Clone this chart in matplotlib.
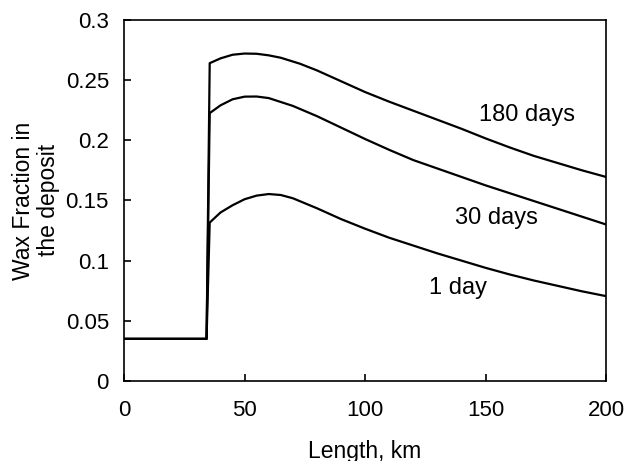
import matplotlib
matplotlib.use("Agg")
import matplotlib.pyplot as plt

plt.rcParams['font.family'] = ['Liberation Sans', 'DejaVu Sans']

# Length (km) and wax fraction for each curve
x_1d = [0, 34.2, 35.5, 40, 45, 50, 55, 60, 65, 70, 80, 90, 100, 110, 120, 130, 140, 150, 160, 170, 180, 190, 200]
y_1d = [0.035, 0.035, 0.1316, 0.140, 0.146, 0.151, 0.154, 0.1553, 0.1545, 0.1518, 0.1435, 0.1345, 0.1265, 0.119, 0.1125, 0.106, 0.100, 0.094, 0.0885, 0.0835, 0.079, 0.0745, 0.0705]

x_30d = [0, 34.2, 35.5, 40, 45, 50, 55, 60, 70, 80, 90, 100, 110, 120, 130, 140, 150, 160, 170, 180, 190, 200]
y_30d = [0.035, 0.035, 0.2225, 0.229, 0.234, 0.2362, 0.2363, 0.235, 0.2285, 0.220, 0.2105, 0.201, 0.192, 0.1835, 0.1765, 0.1695, 0.1625, 0.156, 0.1495, 0.143, 0.1365, 0.130]

x_180d = [0, 34.2, 35.5, 40, 45, 50, 55, 60, 65, 73, 80, 90, 100, 110, 120, 130, 140, 150, 160, 170, 180, 190, 200]
y_180d = [0.035, 0.035, 0.264, 0.268, 0.2710, 0.2720, 0.2718, 0.2705, 0.2685, 0.2635, 0.258, 0.249, 0.240, 0.232, 0.2245, 0.217, 0.2095, 0.2015, 0.194, 0.187, 0.181, 0.175, 0.1695]

labels = ["180 days", "30 days", "1 day"]
label_x = [167, 154.6, 138.5]
label_y = [0.221, 0.1355, 0.0773]

fig = plt.figure(figsize=(6.4, 4.61), dpi=100)
ax = fig.add_axes([0.194, 0.1735, 0.753, 0.7835])

for xs, ys in [(x_1d, y_1d), (x_30d, y_30d), (x_180d, y_180d)]:
    ax.plot(xs, ys, color='black', linewidth=1.6, solid_joinstyle='round')

for t, lx, ly in zip(labels, label_x, label_y):
    ax.text(lx, ly, t, fontsize=17, ha='center', va='center')

ax.set_xlim(0, 200)
ax.set_ylim(0, 0.3)
ax.set_xticks([0, 50, 100, 150, 200])
ax.set_yticks([0, 0.05, 0.1, 0.15, 0.2, 0.25, 0.3])
ax.set_yticklabels(['0', '0.05', '0.1', '0.15', '0.2', '0.25', '0.3'])
ax.tick_params(axis='both', direction='in', length=5, width=1.2, labelsize=16)
ax.tick_params(axis='x', pad=14)
ax.tick_params(axis='y', pad=11)
for s in ax.spines.values():
    s.set_linewidth(1.2)

ax.set_xlabel('Length, km', fontsize=16.5, labelpad=13)
ax.set_ylabel('Wax Fraction in\nthe deposit', fontsize=16.5, labelpad=4, linespacing=1.1)

fig.savefig('out.png', dpi=100)
